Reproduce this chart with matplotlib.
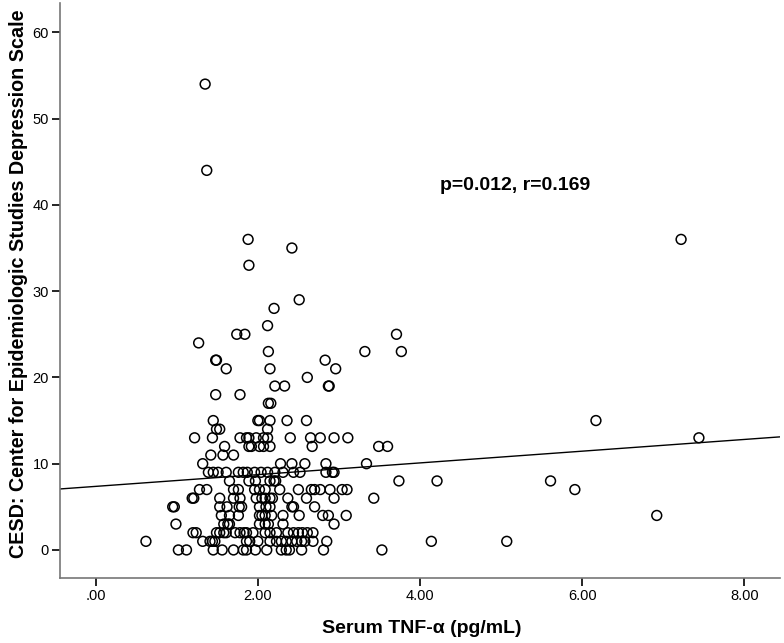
import matplotlib
matplotlib.use("Agg")
import matplotlib.pyplot as plt
import numpy as np

plt.rcParams['font.family'] = ['Liberation Sans', 'DejaVu Sans']

# CESD score -> list of serum TNF-alpha values observed at that score
points_by_score = {
    54: [1.35],
    44: [1.37],
    36: [1.88, 7.22],
    35: [2.42],
    33: [1.89],
    29: [2.51],
    28: [2.20],
    26: [2.12],
    25: [1.74, 1.84, 3.71],
    24: [1.27],
    23: [2.13, 3.32, 3.77],
    22: [1.48, 1.49, 2.83],
    21: [1.61, 2.15, 2.96],
    20: [2.61],
    19: [2.21, 2.33, 2.87, 2.88],
    18: [1.48, 1.78],
    17: [2.13, 2.16],
    15: [1.45, 2.00, 2.02, 2.15, 2.36, 2.60, 6.17],
    14: [1.49, 1.53, 2.12],
    13: [1.22, 1.44, 1.78, 1.86, 1.89, 1.98, 2.07, 2.12, 2.40, 2.65, 2.77, 2.94, 3.11, 7.44],
    12: [1.59, 1.89, 1.92, 2.02, 2.07, 2.15, 2.67, 3.49, 3.60],
    11: [1.42, 1.57, 1.70],
    10: [1.32, 2.28, 2.42, 2.58, 2.84, 3.34],
    9: [1.39, 1.45, 1.51, 1.61, 1.76, 1.82, 1.87, 1.96, 2.04, 2.12, 2.21, 2.31, 2.44, 2.52,
        2.84, 2.92, 2.94],
    8: [1.65, 1.89, 1.97, 2.15, 2.20, 2.22, 3.74, 4.21, 5.61],
    7: [1.28, 1.37, 1.70, 1.76, 1.96, 2.02, 2.09, 2.27, 2.50, 2.66, 2.70, 2.77, 2.89, 3.04,
        3.10, 5.91],
    6: [1.19, 1.21, 1.53, 1.70, 1.78, 1.98, 2.05, 2.09, 2.15, 2.18, 2.37, 2.60, 2.94, 3.43],
    5: [0.95, 0.97, 1.53, 1.62, 1.77, 1.80, 2.02, 2.10, 2.15, 2.42, 2.44, 2.70],
    4: [1.55, 1.65, 1.76, 2.02, 2.05, 2.09, 2.17, 2.31, 2.51, 2.80, 2.87, 3.09, 6.92],
    3: [0.99, 1.58, 1.63, 1.65, 2.02, 2.09, 2.13, 2.31, 2.94],
    2: [1.20, 1.24, 1.49, 1.53, 1.58, 1.61, 1.72, 1.78, 1.83, 1.86, 1.94, 2.09, 2.15, 2.23,
        2.37, 2.44, 2.50, 2.55, 2.61, 2.68],
    1: [0.62, 1.32, 1.41, 1.44, 1.47, 1.86, 1.90, 2.00, 2.15, 2.23, 2.29, 2.35, 2.42, 2.48,
        2.54, 2.58, 2.68, 2.85, 4.14, 5.07],
    0: [1.02, 1.12, 1.45, 1.56, 1.70, 1.82, 1.86, 1.97, 2.11, 2.29, 2.35, 2.39, 2.54, 2.81,
        3.53],
}

fit_intercept = 7.37
fit_slope = 0.68

x_ticks = [0, 2, 4, 6, 8]
x_tick_labels = [".00", "2.00", "4.00", "6.00", "8.00"]
y_ticks = [0, 10, 20, 30, 40, 50, 60]

annotation = "p=0.012, r=0.169"
x_label = "Serum TNF-α (pg/mL)"
y_label = "CESD: Center for Epidemiologic Studies Depression Scale"

xs = []
ys = []
for score, vals in points_by_score.items():
    for v in vals:
        xs.append(v)
        ys.append(score)
xs = np.array(xs)
ys = np.array(ys)

fig = plt.figure(figsize=(7.84, 6.43), dpi=100)
ax = fig.add_axes([60/784, 1 - 578/643, 720/784, 575/643])

xmin, xmax = -0.44, 8.44
ymin, ymax = -3.25, 63.4

ax.scatter(xs, ys, s=50, facecolors='none', edgecolors='black', linewidths=1.1, zorder=3)

lx = np.array([xmin, xmax])
ax.plot(lx, fit_intercept + fit_slope * lx, color='black', linewidth=1.0, zorder=2)

ax.set_xlim(xmin, xmax)
ax.set_ylim(ymin, ymax)

ax.set_xticks(x_ticks)
ax.set_xticklabels(x_tick_labels)
ax.set_yticks(y_ticks)

for s in ['top', 'right']:
    ax.spines[s].set_visible(False)
for s in ['left', 'bottom']:
    ax.spines[s].set_color('#777777')
    ax.spines[s].set_linewidth(1.2)

ax.tick_params(axis='both', direction='out', length=6, width=1.2, color='black',
               labelsize=10.5, pad=2)

ax.set_xlabel(x_label, fontsize=14, fontweight='bold')
ax.set_ylabel(y_label, fontsize=14.2, fontweight='bold')
ax.xaxis.set_label_coords(0.503, -0.073)
ax.yaxis.set_label_coords(-0.044, 0.511)

ax.text(5.17, 42.3, annotation, fontsize=14, fontweight='bold', ha='center', va='center')

fig.savefig("out.png", dpi=100)
